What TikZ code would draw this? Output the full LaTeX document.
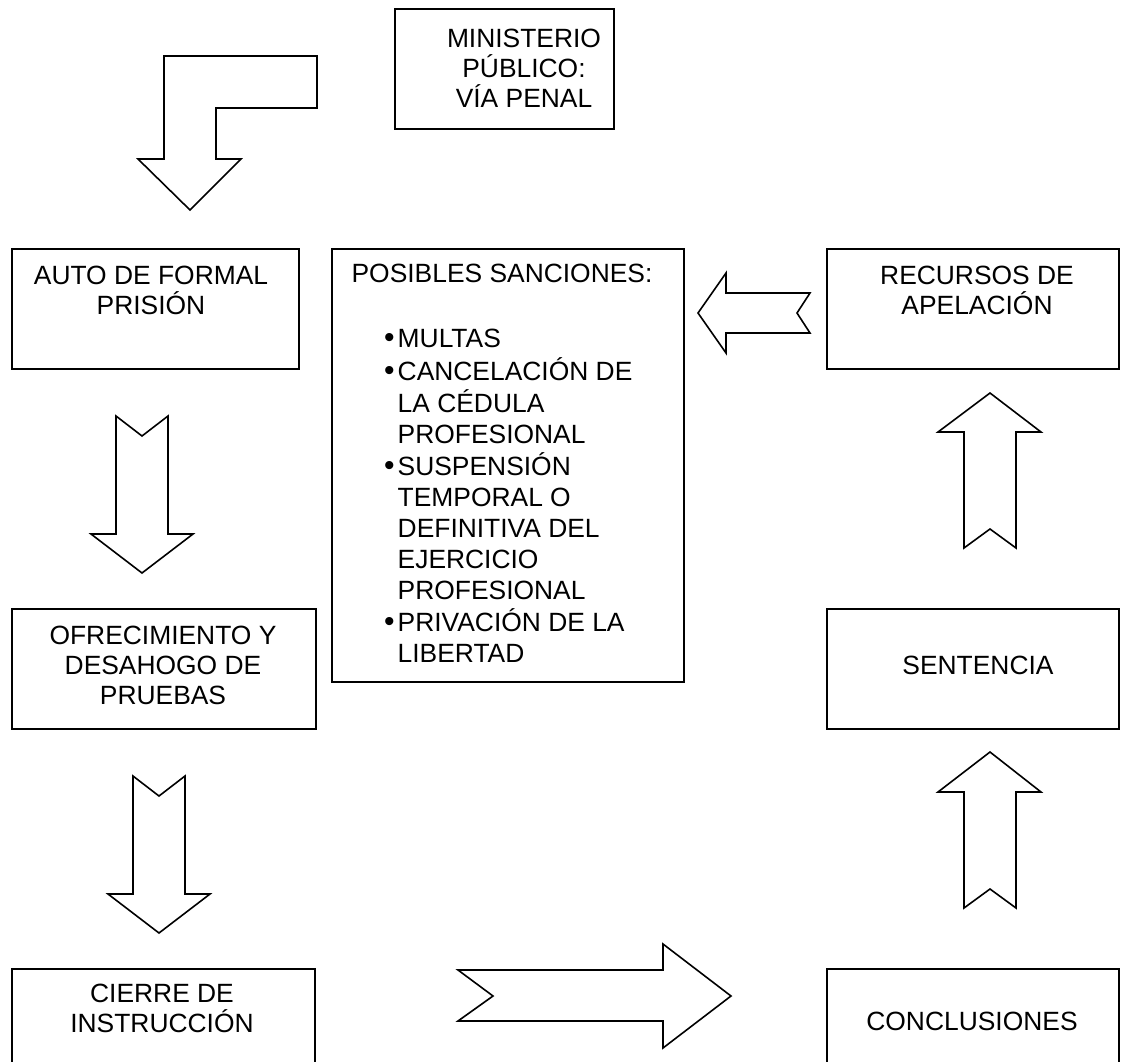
\documentclass[tikz,border=0pt]{standalone}
\usepackage{fontspec}
\setmainfont{Liberation Sans}
\begin{document}
\begin{tikzpicture}[x=1pt,y=-1pt,
  box/.style={draw=black, line width=1.6pt, rectangle, inner sep=0pt, anchor=north west},
  blockarrow/.style={draw=black, line width=1.6pt, line join=miter, fill=white},
  txt/.style={align=center, inner sep=0pt, font=\fontsize{26.4}{30}\selectfont}]
\clip (0,0) rectangle (1133,1061);
\fill[white] (0,0) rectangle (1133,1061);

% boxes
\node[box, minimum width=219pt, minimum height=120pt] (mp) at (394,8) {};
\node[box, minimum width=287pt, minimum height=120pt] (auto) at (11,248) {};
\node[box, minimum width=352pt, minimum height=433pt] (sanc) at (331,248) {};
\node[box, minimum width=292pt, minimum height=120pt] (rec) at (826,248) {};
\node[box, minimum width=304pt, minimum height=120pt] (ofr) at (11,608) {};
\node[box, minimum width=292pt, minimum height=120pt] (sent) at (826,608) {};
\node[box, minimum width=303pt, minimum height=130pt] (cierre) at (11,968) {};
\node[box, minimum width=292pt, minimum height=130pt] (concl) at (826,968) {};

% texts
\node[txt] (mpt) at (524,68) {MINISTERIO\\PÚBLICO:\\VÍA PENAL};
\node[txt] (autot) at (151,290) {AUTO DE FORMAL\\PRISIÓN};
\node[txt] (rect) at (977,290) {RECURSOS DE\\APELACIÓN};
\node[txt] (ofrt) at (163,665) {OFRECIMIENTO Y\\DESAHOGO DE\\PRUEBAS};
\node[txt] (sentt) at (978,665) {SENTENCIA};
\node[txt] (cierret) at (162,1008) {CIERRE DE\\INSTRUCCIÓN};
\node[txt] (conclt) at (972,1021) {CONCLUSIONES};
\node[txt] (sanct) at (502,273) {POSIBLES SANCIONES:};
\node[inner sep=0pt, anchor=north west, font=\fontsize{26.4}{31}\selectfont] (sancl) at (384,326) {%
  \begin{tabular}{@{}l@{\hspace{3pt}}l@{}}
  {\fontsize{30}{31}\selectfont •} & MULTAS\\
  {\fontsize{30}{31}\selectfont •} & CANCELACIÓN DE\\
    & LA CÉDULA\\
    & PROFESIONAL\\
  {\fontsize{30}{31}\selectfont •} & SUSPENSIÓN\\
    & TEMPORAL O\\
    & DEFINITIVA DEL\\
    & EJERCICIO\\
    & PROFESIONAL\\
  {\fontsize{30}{31}\selectfont •} & PRIVACIÓN DE LA\\
    & LIBERTAD
  \end{tabular}};

% block arrows
\draw[blockarrow] (164,159) -- (164,56) -- (317,56) -- (317,108) -- (216,108) -- (216,159)
  -- (241,159) -- (190,210) -- (138,159) -- cycle;
\draw[blockarrow] (116,416) -- (142,436) -- (168,416) -- (168,534) -- (193,534)
  -- (142,573) -- (91,534) -- (116,534) -- cycle;
\draw[blockarrow] (133,776) -- (159,796) -- (185,776) -- (185,894) -- (210,894)
  -- (159,933) -- (108,894) -- (133,894) -- cycle;
\draw[blockarrow] (964,548) -- (990,529) -- (1016,548) -- (1016,432) -- (1041,432)
  -- (990,393) -- (938,432) -- (964,432) -- cycle;
\draw[blockarrow] (964,908) -- (990,889) -- (1016,908) -- (1016,792) -- (1041,792)
  -- (990,752) -- (938,792) -- (964,792) -- cycle;
\draw[blockarrow] (810,293) -- (797,313) -- (810,333) -- (726,333) -- (726,353)
  -- (698,313) -- (726,273) -- (726,293) -- cycle;
\draw[blockarrow] (458,970) -- (493,996) -- (458,1021) -- (663,1021) -- (663,1048)
  -- (731,996) -- (663,944) -- (663,970) -- cycle;
\end{tikzpicture}
\end{document}
